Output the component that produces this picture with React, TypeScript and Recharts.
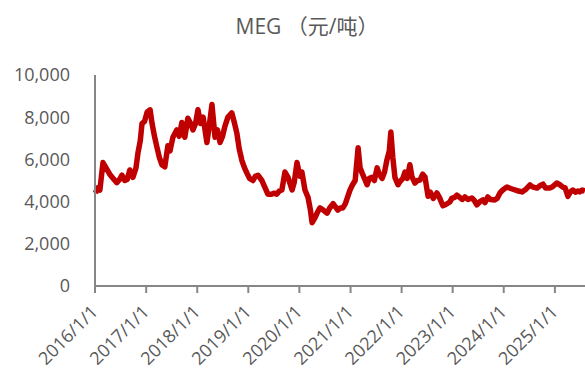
import { Line, LineChart, XAxis, YAxis } from "recharts";

const dates = [
  "2016-01-04", "2016-01-20", "2016-02-05", "2016-02-27", "2016-03-20", "2016-04-15", "2016-05-10", "2016-06-05",
  "2016-06-25", "2016-07-12", "2016-08-01", "2016-08-18", "2016-09-06", "2016-09-28", "2016-10-20", "2016-11-03",
  "2016-11-20", "2016-12-02", "2016-12-20", "2017-01-08", "2017-01-29", "2017-02-12", "2017-03-01", "2017-03-18",
  "2017-04-05", "2017-04-23", "2017-05-14", "2017-06-05", "2017-06-20", "2017-07-11", "2017-08-08", "2017-08-25",
  "2017-09-13", "2017-10-04", "2017-10-26", "2017-11-15", "2017-12-01", "2017-12-20", "2018-01-06", "2018-01-25",
  "2018-02-12", "2018-03-11", "2018-03-28", "2018-04-16", "2018-05-08", "2018-05-25", "2018-06-13", "2018-07-01",
  "2018-07-17", "2018-08-08", "2018-09-05", "2018-09-25", "2018-10-11", "2018-10-28", "2018-11-16", "2018-12-05",
  "2018-12-22", "2019-01-10", "2019-02-03", "2019-02-20", "2019-03-11", "2019-04-08", "2019-04-28", "2019-05-21",
  "2019-06-15", "2019-07-05", "2019-07-24", "2019-08-10", "2019-08-29", "2019-09-20", "2019-10-12", "2019-11-10",
  "2019-11-25", "2019-12-15", "2020-01-05", "2020-01-19", "2020-02-10", "2020-03-03", "2020-03-20", "2020-04-01",
  "2020-04-23", "2020-05-10", "2020-05-27", "2020-06-20", "2020-07-17", "2020-08-05", "2020-08-29", "2020-09-15",
  "2020-10-02", "2020-10-20", "2020-11-07", "2020-11-25", "2020-12-10", "2020-12-28", "2021-01-15", "2021-02-03",
  "2021-02-24", "2021-03-10", "2021-03-25", "2021-04-10", "2021-04-29", "2021-05-15", "2021-06-04", "2021-06-20",
  "2021-07-10", "2021-07-25", "2021-08-15", "2021-09-01", "2021-09-17", "2021-10-05", "2021-10-16", "2021-10-30",
  "2021-11-14", "2021-12-06", "2021-12-20", "2022-01-10", "2022-01-25", "2022-02-10", "2022-03-01", "2022-03-15",
  "2022-04-06", "2022-04-25", "2022-05-12", "2022-06-01", "2022-06-17", "2022-07-09", "2022-07-25", "2022-08-15",
  "2022-09-10", "2022-09-28", "2022-10-23", "2022-11-10", "2022-12-12", "2022-12-25", "2023-01-15", "2023-01-31",
  "2023-02-20", "2023-03-10", "2023-03-29", "2023-04-20", "2023-05-18", "2023-06-05", "2023-06-23", "2023-07-15",
  "2023-08-05", "2023-08-20", "2023-09-09", "2023-09-28", "2023-10-29", "2023-11-15", "2023-12-05", "2023-12-25",
  "2024-01-24", "2024-02-20", "2024-03-22", "2024-04-15", "2024-05-11", "2024-06-10", "2024-07-07", "2024-07-25",
  "2024-08-26", "2024-09-15", "2024-10-08", "2024-10-25", "2024-11-25", "2024-12-15", "2025-01-14", "2025-02-05",
  "2025-02-26", "2025-03-15", "2025-04-04", "2025-04-20", "2025-05-09", "2025-05-28", "2025-06-15", "2025-06-27",
  "2025-07-15", "2025-08-04",
];

const prices = [
  4400, 4650, 4550, 5850, 5600, 5300, 5100, 4900,
  5050, 5250, 5000, 5050, 5500, 5150, 5600, 6300,
  6900, 7700, 7800, 8250, 8350, 7700, 7100, 6600,
  6100, 5750, 5650, 6650, 6400, 7050, 7400, 7100,
  7750, 7050, 7950, 7700, 7400, 7700, 8350, 7700,
  8000, 6800, 7600, 8600, 7050, 7400, 6800, 7100,
  7550, 8000, 8200, 7700, 7250, 6500, 5950, 5600,
  5350, 5100, 5000, 5200, 5250, 5000, 4700, 4350,
  4350, 4400, 4350, 4500, 4550, 5400, 5150, 4550,
  4900, 5850, 5200, 5400, 4550, 4200, 3600, 3000,
  3250, 3500, 3700, 3600, 3450, 3700, 3900, 3750,
  3600, 3700, 3700, 3900, 4200, 4550, 4800, 5000,
  6550, 5600, 5350, 5100, 4800, 5100, 5150, 5000,
  5600, 5300, 5100, 5400, 5950, 6400, 7300, 6100,
  5150, 4800, 4950, 5100, 5400, 5100, 5750, 5200,
  4880, 5000, 5020, 5300, 5170, 4250, 4450, 4150,
  4410, 4200, 3800, 3850, 3980, 4150, 4200, 4310,
  4200, 4100, 4220, 4100, 4170, 4050, 3840, 4000,
  4080, 3950, 4220, 4100, 4080, 4150, 4410, 4550,
  4690, 4620, 4550, 4500, 4460, 4600, 4790, 4700,
  4640, 4750, 4830, 4650, 4640, 4700, 4880, 4800,
  4690, 4650, 4250, 4450, 4550, 4450, 4500, 4460,
  4550, 4500,
];

const yearTicks = ["2016/1/1", "2017/1/1", "2018/1/1", "2019/1/1", "2020/1/1", "2021/1/1", "2022/1/1", "2023/1/1", "2024/1/1", "2025/1/1"];
const yTicks = [0, 2000, 4000, 6000, 8000, 10000];
const startDate = "2016-01-01";
const endDate = "2025-08-04";

const toTime = (s: string) => new Date(s.replace(/\//g, "-").replace(/-(\d)(?=-|$)/g, "-0$1") + "T00:00:00Z").getTime();

const data = dates.map((d, i) => ({ t: toTime(d), price: prices[i] }));
const xTickValues = yearTicks.map(toTime);
const labelOf = (t: number) => yearTicks[xTickValues.indexOf(t)] ?? "";

const FONT = "'Open Sans', 'Noto Sans CJK SC', sans-serif";
const TEXT = "#595959";
const AXIS = "#868686";

function DateTick({ x, y, payload }: any) {
  return (
    <g transform={`translate(${x + 4},${y + 18})`}>
      <text textAnchor="end" transform="rotate(-45)" fill={TEXT} fontSize={18} fontFamily={FONT}>
        {labelOf(payload.value)}
      </text>
    </g>
  );
}

export default function App() {
  return (
    <div style={{ position: "absolute", left: 0, top: 0, width: 585, height: 371, background: "#fff" }}>
      <div
        style={{
          position: "absolute", left: 0, top: 10, width: 614, textAlign: "center",
          fontFamily: FONT, fontSize: 21, color: TEXT, whiteSpace: "pre",
        }}
      >
        MEG （元/吨）
      </div>
      <LineChart width={585} height={371} data={data} margin={{ top: 75, right: 0, bottom: 0, left: 0 }}>
        <XAxis
          dataKey="t" type="number" scale="time" domain={[toTime(startDate), toTime(endDate)]}
          ticks={xTickValues} tick={<DateTick />} height={85} interval={0}
          axisLine={{ stroke: AXIS, strokeWidth: 2 }} tickLine={{ stroke: AXIS, strokeWidth: 2 }} tickSize={7}
        />
        <YAxis
          domain={[0, 10000]} ticks={yTicks} width={95} tickSize={0} tickMargin={25}
          tickFormatter={(v) => Number(v).toLocaleString("en-US")}
          tick={{ fill: TEXT, fontSize: 18, fontFamily: FONT }}
          axisLine={{ stroke: AXIS, strokeWidth: 2 }} tickLine={false}
        />
        <Line
          type="linear" dataKey="price" stroke="#C00000" strokeWidth={5.5} dot={false}
          strokeLinejoin="round" isAnimationActive={false}
        />
      </LineChart>
    </div>
  );
}
